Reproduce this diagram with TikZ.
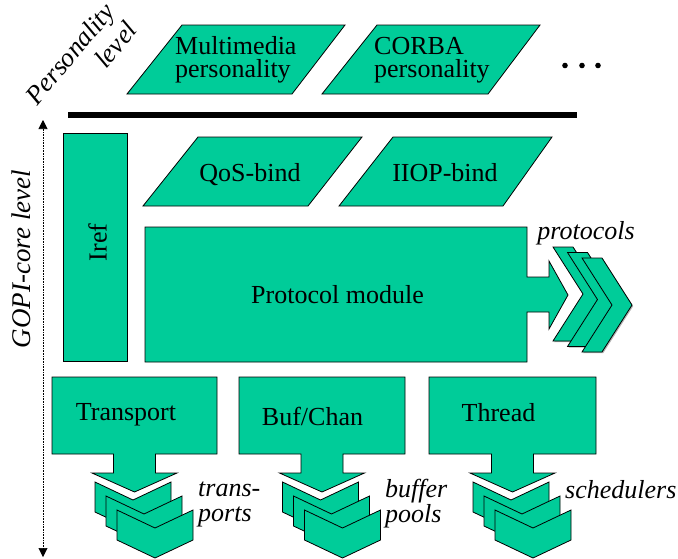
\documentclass[tikz,border=0pt]{standalone}
\usepackage{fontspec}
\setmainfont{Liberation Serif}
\usetikzlibrary{arrows.meta}
\definecolor{gopigreen}{RGB}{0,204,153}
\begin{document}
\begin{tikzpicture}[x=1pt,y=-1pt,
  blk/.style={fill=gopigreen, draw=black, line width=0.8pt, line join=miter},
  shd/.style={fill=black!30, draw=none},
  lbl/.style={inner sep=0pt, font=\fontsize{26}{23}\selectfont},
  ilbl/.style={inner sep=0pt, font=\fontsize{26}{25}\selectfont\itshape}]
\useasboundingbox (0,0) rectangle (678,558);

% ---------- personality level ----------
\draw[blk] (182,25) -- (345,25) -- (292,94) -- (127,94) -- cycle;
\draw[blk] (377,25) -- (540,25) -- (488,94) -- (322,94) -- cycle;
\node[lbl, align=left, anchor=west] (mm) at (175,59.9) {Multimedia\\personality};
\node[lbl, align=left, anchor=west] (corba) at (374,60.2) {CORBA\\personality};
\fill (565,65.5) circle (2.8) (582,65.5) circle (2.8) (598,65.5) circle (2.8);
\node[inner sep=0pt, font=\fontsize{26.5}{29}\selectfont\itshape, align=right, rotate=50] (perslvl) at (81,63) {Personality\\level};

% separator bar
\fill (68,112) rectangle (577,118);

% ---------- vertical axis ----------
\coordinate (axtop) at (43,120);
\coordinate (axbot) at (43,557);
\draw[densely dotted, line width=0.6pt, {Triangle[width=9pt,length=9pt]}-{Triangle[width=9pt,length=9pt]}] (axtop) -- (axbot);
\node[inner sep=0pt, font=\fontsize{27}{27}\selectfont\itshape, rotate=90, anchor=base] (gopi) at (30.5,259) {GOPI-core level};

% ---------- core ----------
\draw[blk] (63,133) rectangle (127,361);
\node[lbl, rotate=90, anchor=base] (iref) at (106.5,242.5) {Iref};

\draw[blk] (198,137) -- (362,137) -- (308,206) -- (143,206) -- cycle;
\draw[blk] (393,137) -- (552,137) -- (503,206) -- (339,206) -- cycle;
\node[lbl, anchor=base] (qos) at (250,181) {QoS-bind};
\node[lbl, anchor=base] (iiop) at (445,181) {IIOP-bind};

\draw[blk] (145,227) -- (527,227) -- (527,277) -- (549,277) -- (549,261) -- (568,295)
  -- (549,329) -- (549,312) -- (527,312) -- (527,362) -- (145,362) -- cycle;
\node[lbl, anchor=base] (proto) at (337.5,303) {Protocol module};

% protocol chevrons
\foreach \k in {0,1,2}{
  \pgfmathsetmacro{\xo}{553+14.5*\k}
  \pgfmathsetmacro{\yo}{247+5.5*\k}
  \begin{scope}[shift={(\xo+1.2,\yo+1.2)}]
    \fill[shd] (0,0) -- (20,0) -- (50,47) -- (20,94) -- (0,94) -- (30,47) -- cycle;
  \end{scope}
  \begin{scope}[shift={(\xo,\yo)}]
    \draw[blk] (0,0) -- (20,0) -- (50,47) -- (20,94) -- (0,94) -- (30,47) -- cycle;
  \end{scope}
}
\node[ilbl, anchor=base] (protocols) at (586,239) {protocols};

% ---------- bottom boxes ----------
\foreach \L/\R in {52/217, 239/405, 429/596}{
  \pgfmathsetmacro{\cx}{(\L+\R)/2}
  \draw[blk] (\L,377) -- (\R,377) -- (\R,454) -- (\cx+21,454) -- (\cx+21,473)
    -- (\cx+42.5,473) -- (\cx,492) -- (\cx-42.5,473) -- (\cx-21,473) -- (\cx-21,454)
    -- (\L,454) -- cycle;
  \foreach \k in {0,1,2}{
    \begin{scope}[shift={(\cx-39.5+11*\k,482+14*\k)}]
      \draw[blk] (0,0) -- (38,18) -- (76,0) -- (76,30) -- (38,48) -- (0,30) -- cycle;
    \end{scope}
  }
}
\node[lbl, anchor=base] (transport) at (126,420.5) {Transport};
\node[lbl, anchor=base] (bufchan) at (312.5,425) {Buf/Chan};
\node[lbl, anchor=base] (thread) at (498.5,421.5) {Thread};

\node[ilbl, align=left, anchor=west] (transports) at (198,504.8) {trans-\\ports};
\node[ilbl, align=left, anchor=west] (bufpools) at (385,503.4) {buffer\\pools};
\node[ilbl, anchor=base west] (sched) at (565,498) {schedulers};
\end{tikzpicture}
\end{document}
